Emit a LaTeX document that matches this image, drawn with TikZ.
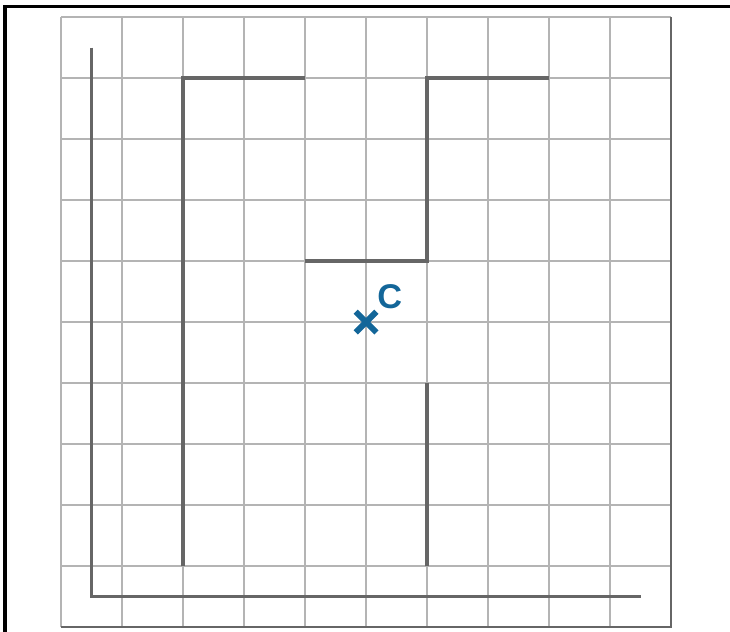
\documentclass[tikz,border=0pt]{standalone}
\usepackage{fontspec}
\setsansfont{Liberation Sans}
\usepackage{xcolor}
\usetikzlibrary{positioning}
\definecolor{gridgray}{HTML}{B4B4B4}
\definecolor{wallgray}{HTML}{666666}
\definecolor{markblue}{HTML}{136699}
\tikzset{
  gridline/.style={draw=gridgray, line width=0.9pt},
  wall/.style={draw=wallgray, line width=1.5pt},
  framebox/.style={draw=black, line width=1.4pt},
  crossmark/.style={draw=markblue, line width=2.8pt},
  marklabel/.style={font=\sffamily\bfseries\fontsize{16}{16}\selectfont,
    text=markblue, inner sep=0pt}
}

\begin{document}
\begin{tikzpicture}
  \useasboundingbox (-1,-0.066) rectangle (10.967,10.279);
  \clip (-1,-0.066) rectangle (10.967,10.279);

  % Frame
  \draw[framebox] (-0.918,-1) -- (-0.918,10.164) -- (12,10.164);

  % Grid
  \draw[gridline] (0,0) grid (10,10);
  \draw[wall, line width=1.3pt] (0,0) -- (10,0) -- (10,10);

  % Walls
  \draw[wall] (0.5,9.5) -- (0.5,0.5) -- (9.5,0.5);
  \draw[wall] (2,1) -- (2,9) -- (4,9);
  \draw[wall] (4,6) -- (6,6) -- (6,9) -- (8,9);
  \draw[wall] (6,1) -- (6,4);

  % Marker C
  \coordinate (c) at (5,5);
  \draw[crossmark] (c) +(-0.17,-0.17) -- +(0.17,0.17)
                   (c) +(-0.17,0.17) -- +(0.17,-0.17);
  \node[marklabel] (clabel) at (5.39,5.42) {C};
\end{tikzpicture}
\end{document}
